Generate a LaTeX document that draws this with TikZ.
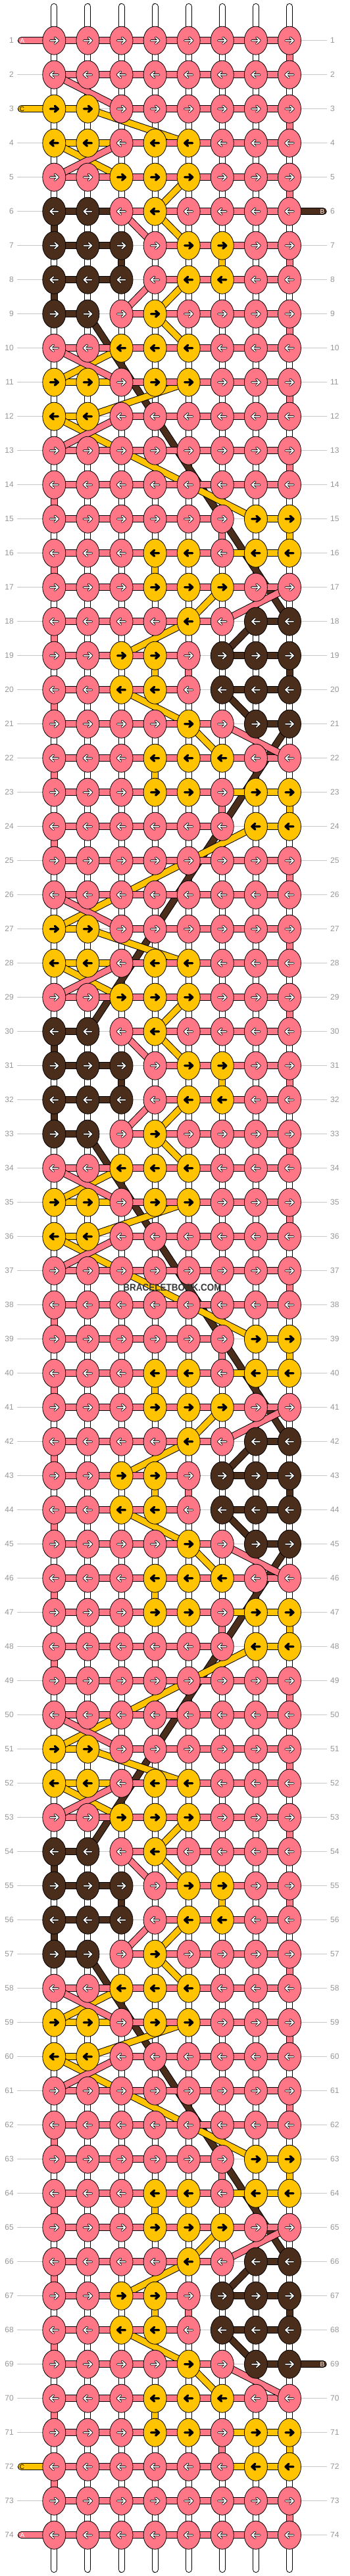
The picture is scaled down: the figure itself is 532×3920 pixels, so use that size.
\documentclass[tikz,border=0pt]{standalone}
\usepackage{xcolor}
\usepackage{tikz}
\usepackage{fontspec}
\setmainfont{Liberation Sans}
\usetikzlibrary{shapes.geometric}
\usetikzlibrary{backgrounds}
\definecolor{cp}{RGB}{255,118,134}
\definecolor{cy}{RGB}{255,195,0}
\definecolor{cb}{RGB}{75,45,27}
\colorlet{ap}{white}
\colorlet{ay}{black}
\colorlet{ab}{white}
\definecolor{numgrey}{RGB}{150,150,150}
\definecolor{linegrey}{RGB}{200,200,200}
\definecolor{markgrey}{RGB}{55,55,55}
\tikzset{knot/.style={ellipse, draw=black, line width=0.8pt, minimum width=35pt, minimum height=43pt, inner sep=0pt},
         wstring/.style={double=white, double distance=8pt, line width=1pt},
         pstring/.style={double=cp, double distance=9pt, line width=1pt},
         ystring/.style={double=cy, double distance=9pt, line width=1pt},
         bstring/.style={double=cb, double distance=9pt, line width=1pt},
         rowline/.style={draw=linegrey, line width=1pt, shorten <=5pt, shorten >=5pt},
         rownum/.style={text=numgrey, inner sep=0pt, font=\fontsize{12}{12}\selectfont},
         tag/.style={inner sep=0pt, font=\fontsize{10}{10}\selectfont}}
\newcommand{\knotarrow}[3]{%
  \begin{scope}[shift={(#1.center)}, xscale=#2, line cap=round, line join=round]
    \draw[line width=3.4pt, color=black] (-6,0) -- (6,0) (1,-4.5) -- (6,0) -- (1,4.5);
    \draw[line width=1.7pt, color=#3] (-6,0) -- (6,0) (1,-4.5) -- (6,0) -- (1,4.5);
  \end{scope}}
\newcommand{\knotrow}[9]{%
  \pgfmathsetmacro\rowy{9.7+52*#1}
  \pgfmathtruncatemacro\rowdir{2*mod(#1,2)-1}
  \foreach \col/\kcol in {1/#2,2/#3,3/#4,4/#5,5/#6,6/#7,7/#8,8/#9}{
    \edef\kfill{c\kcol}\edef\karrow{a\kcol}
    \node[knot, fill=\kfill] (k-#1-\col) at (31.2+51.1*\col,\rowy) {};
    \knotarrow{k-#1-\col}{\rowdir}{\karrow}
  }}

\begin{document}
\begin{tikzpicture}[x=1pt, y=-1pt]
\useasboundingbox (0,0) rectangle (532,3920);
\foreach \row in {1,...,74}{
  \node[rownum, anchor=east] (nl-\row) at (21,9.7+52*\row) {\row};
  \node[rownum, anchor=west] (nr-\row) at (502,9.7+52*\row) {\row};
}
\knotrow{1}{p}{p}{p}{p}{p}{p}{p}{p}
\foreach \k in {0,1,2}{
  \foreach \ra/\ka/\kb/\kc/\kd/\ke/\kf/\kg/\kh in {2/p/p/p/p/p/p/p/p, 3/y/y/p/p/p/p/p/p,
      4/y/y/p/y/y/p/p/p, 5/p/p/y/y/y/p/p/p, 6/b/b/p/y/p/p/p/p, 7/b/b/b/p/y/y/p/p,
      8/b/b/b/p/y/y/p/p, 9/b/b/p/y/p/p/p/p, 10/p/p/y/y/y/p/p/p, 11/y/y/p/y/y/p/p/p,
      12/y/y/p/p/p/p/p/p, 13/p/p/p/p/p/p/p/p, 14/p/p/p/p/p/p/p/p, 15/p/p/p/p/p/p/y/y,
      16/p/p/p/y/y/p/y/y, 17/p/p/p/y/y/y/p/p, 18/p/p/p/p/y/p/b/b, 19/p/p/y/y/p/b/b/b,
      20/p/p/y/y/p/b/b/b, 21/p/p/p/p/y/p/b/b, 22/p/p/p/y/y/y/p/p, 23/p/p/p/y/y/p/y/y,
      24/p/p/p/p/p/p/y/y, 25/p/p/p/p/p/p/p/p}{
    \pgfmathtruncatemacro\rx{\ra+24*\k}
    \knotrow{\rx}{\ka}{\kb}{\kc}{\kd}{\ke}{\kf}{\kg}{\kh}
  }}
\knotrow{74}{p}{p}{p}{p}{p}{p}{p}{p}

\coordinate (ea1) at (32.5,61.7);
\coordinate (ea2) at (32.5,3857.7);
\coordinate (ec1) at (32.5,165.7);
\coordinate (ec2) at (32.5,3753.7);
\coordinate (eb1) at (491,321.7);
\coordinate (eb2) at (491,3597.7);
\foreach \col in {1,...,8}{
  \coordinate (t-\col) at (31.2+51.1*\col,10);
  \coordinate (b-\col) at (31.2+51.1*\col,3910);
}
\node[tag, text=white] (ta1) at (34,61.7) {A};
\node[tag, text=white] (ta2) at (34,3857.7) {A};
\node[tag, text=black] (tc1) at (33.5,165.7) {C};
\node[tag, text=black] (tc2) at (33.5,3753.7) {C};
\node[tag, text=white] (tb1) at (490,321.7) {B};
\node[tag, text=white] (tb2) at (490,3597.7) {B};
\node[text=markgrey, font=\bfseries\fontsize{15}{15}\selectfont, xscale=0.9, transform shape] (wm) at (262,1959) {BRACELETBOOK.COM};

\begin{pgfonlayer}{background}
\foreach \row in {1,...,74}
  \draw[rowline] (nl-\row.east) -- (nr-\row.west);
\foreach \col in {1,...,8}{
  \draw[wstring, line cap=round] (t-\col) -- (k-1-\col.center);
  \draw[wstring, line cap=round] (k-74-\col.center) -- (b-\col);
  \foreach \ra [count=\rb from 2] in {1,...,73}
    \draw[wstring] (k-\ra-\col.center) -- (k-\rb-\col.center);
}

\draw[bstring, line cap=round] (eb1) -- (k-6-1.center);
\draw[bstring, line cap=round] (eb2) -- (k-69-7.center);
\foreach \k in {0,1,2}{
  \foreach \ra/\ca/\cb in {6/1/2,7/1/3,8/1/3,9/1/2,18/7/8,19/6/8,20/6/8,21/7/8}{
    \pgfmathtruncatemacro\rx{\ra+24*\k}
    \draw[bstring] (k-\rx-\ca.center) -- (k-\rx-\cb.center);
  }
  \foreach \ra/\ca/\rb/\cb in {6/1/7/1,7/3/8/3,8/1/9/1,9/2/18/8,18/7/19/6,19/8/20/8,20/6/21/7}{
    \pgfmathtruncatemacro\rx{\ra+24*\k}
    \pgfmathtruncatemacro\ry{\rb+24*\k}
    \draw[bstring] (k-\rx-\ca.center) -- (k-\ry-\cb.center);
  }
}
\foreach \k in {0,1}{
  \pgfmathtruncatemacro\rx{21+24*\k}
  \pgfmathtruncatemacro\ry{30+24*\k}
  \draw[bstring] (k-\rx-8.center) -- (k-\ry-2.center);
}

\draw[ystring, line cap=round] (ec1) -- (k-3-1.center);
\draw[ystring, line cap=round] (ec2) -- (k-72-8.center);
\foreach \k in {0,1,2}{
  \foreach \ra/\ca/\cb in {3/1/2,4/1/5,5/3/5,7/5/6,8/5/6,10/3/5,11/1/5,12/1/2,15/7/8,16/4/8,
      17/4/6,19/3/4,20/3/4,22/4/6,23/4/8,24/7/8}{
    \pgfmathtruncatemacro\rx{\ra+24*\k}
    \draw[ystring] (k-\rx-\ca.center) -- (k-\rx-\cb.center);
  }
  \foreach \ra/\ca/\rb/\cb in {3/2/4/5,4/1/5/3,5/5/6/4,6/4/7/5,7/6/8/6,8/5/9/4,9/4/10/5,
      10/3/11/1,11/5/12/2,12/1/15/7,15/8/16/8,16/4/17/4,17/6/18/5,18/5/19/3,19/4/20/4,
      20/3/21/5,21/5/22/6,22/4/23/4,23/8/24/8}{
    \pgfmathtruncatemacro\rx{\ra+24*\k}
    \pgfmathtruncatemacro\ry{\rb+24*\k}
    \draw[ystring] (k-\rx-\ca.center) -- (k-\ry-\cb.center);
  }
}
\foreach \k in {0,1}{
  \pgfmathtruncatemacro\rx{24+24*\k}
  \pgfmathtruncatemacro\ry{27+24*\k}
  \draw[ystring] (k-\rx-7.center) -- (k-\ry-1.center);
}

\draw[pstring, line cap=round] (ea1) -- (k-1-8.center);
\draw[pstring, line cap=round] (ea2) -- (k-74-8.center);
\draw[pstring] (k-1-8.center) -- (k-2-8.center);
\foreach \k in {0,1,2}{
  \foreach \ra/\ca/\cb in {2/1/8,3/3/8,4/3/8,5/1/8,6/3/8,7/4/8,8/4/8,9/3/8,10/1/8,11/3/8,
      12/3/8,13/1/8,14/1/8,15/1/6,16/1/6,17/1/8,18/1/6,19/1/5,20/1/5,21/1/6,22/1/8,
      23/1/6,24/1/6,25/1/8}{
    \pgfmathtruncatemacro\rx{\ra+24*\k}
    \draw[pstring] (k-\rx-\ca.center) -- (k-\rx-\cb.center);
  }
  \foreach \ra/\ca/\rb/\cb in {2/1/3/3,3/8/4/8,4/3/5/1,5/8/6/8,6/3/7/4,7/8/8/8,8/4/9/3,
      9/8/10/8,10/1/11/3,11/8/12/8,12/3/13/1,13/8/14/8,14/1/15/1,15/6/16/6,16/1/17/1,
      17/8/18/6,18/1/19/1,19/5/20/5,20/1/21/1,21/6/22/8,22/1/23/1,23/6/24/6,24/1/25/1,
      25/8/26/8}{
    \pgfmathtruncatemacro\rx{\ra+24*\k}
    \pgfmathtruncatemacro\ry{\rb+24*\k}
    \draw[pstring] (k-\rx-\ca.center) -- (k-\ry-\cb.center);
  }
}
\end{pgfonlayer}
\end{tikzpicture}
\end{document}
